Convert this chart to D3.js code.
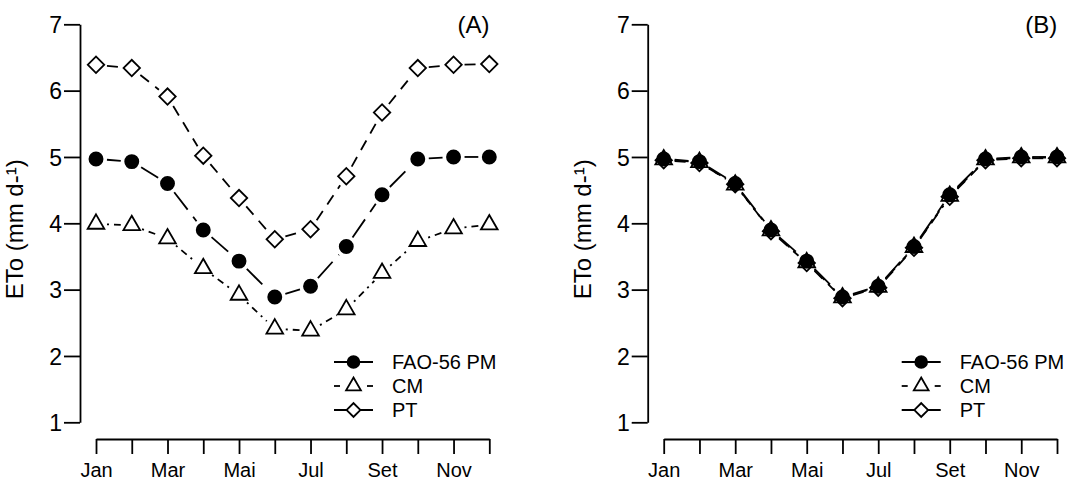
<!DOCTYPE html>
<html>
<head>
<meta charset="utf-8">
<script src="https://cdn.jsdelivr.net/npm/d3@7"></script>
<style>
  body { margin: 0; background: #fff; }
  text { font-family: "Liberation Sans", Arial, sans-serif; fill: #000; }
</style>
</head>
<body>
<div id="chart"></div>
<script>
// Months (tick every month, label every other one)
var months = ["Jan", "Fev", "Mar", "Abr", "Mai", "Jun", "Jul", "Ago", "Set", "Out", "Nov", "Dez"];
var yTicks = [1, 2, 3, 4, 5, 6, 7];

// Panel A - original equations
var faoA = [4.97, 4.93, 4.60, 3.90, 3.43, 2.89, 3.05, 3.65, 4.43, 4.97, 5.00, 5.00];
var cmA  = [3.99, 3.97, 3.77, 3.32, 2.92, 2.41, 2.38, 2.70, 3.25, 3.73, 3.92, 3.98];
var ptA  = [6.39, 6.34, 5.91, 5.02, 4.38, 3.76, 3.91, 4.71, 5.67, 6.34, 6.39, 6.40];

// Panel B - calibrated equations
var faoB = [4.97, 4.93, 4.60, 3.90, 3.43, 2.89, 3.05, 3.65, 4.43, 4.97, 5.00, 5.00];
var cmB  = [4.96, 4.92, 4.58, 3.89, 3.41, 2.88, 3.04, 3.64, 4.41, 4.96, 4.99, 4.99];
var ptB  = [4.95, 4.91, 4.59, 3.88, 3.40, 2.87, 3.03, 3.63, 4.40, 4.95, 4.98, 4.98];

var seriesNames = ["FAO-56 PM", "CM", "PT"];

var width = 1070, height = 482;

var svg = d3.select("#chart").append("svg")
    .attr("width", width)
    .attr("height", height)
    .style("background", "#fff");

// marker shapes
var circle = d3.symbol().type(d3.symbolCircle).size(135);
var triangle = d3.symbol().type(d3.symbolTriangle).size(120);
var diamond = d3.symbol().type(d3.symbolSquare).size(135);

var styles = {
    "FAO-56 PM": { dash: "22,9", shape: circle, fill: "#000", rot: 0 },
    "CM": { dash: "2,5,7,5", shape: triangle, fill: "#fff", rot: 0 },
    "PT": { dash: "11,8", shape: diamond, fill: "#fff", rot: 45 }
};

function drawPanel(offsetX, label, data) {
    var g = svg.append("g");
    var axisX = 80 + offsetX;

    var x = d3.scalePoint()
        .domain(months)
        .range([96 + offsetX, 489.3 + offsetX]);

    var y = d3.scaleLinear()
        .domain([1, 7])
        .range([422.3, 24.3]);

    // y axis
    var yAxis = g.append("g")
        .attr("transform", `translate(${axisX},0)`)
        .call(d3.axisLeft(y).tickValues(yTicks).tickFormat(d3.format("d"))
            .tickSize(16).tickSizeOuter(0).tickPadding(2));
    yAxis.selectAll("text").style("font-size", "23px").attr("dy", "0.36em");

    // x axis
    var xAxis = g.append("g")
        .attr("transform", "translate(0,439)")
        .call(d3.axisBottom(x).tickSize(15).tickSizeOuter(0).tickPadding(9)
            .tickFormat((d, i) => i % 2 === 0 ? d : ""));
    xAxis.selectAll("text").style("font-size", "20px");

    g.selectAll(".domain, .tick line")
        .attr("stroke", "#000")
        .attr("stroke-width", 1.8);

    // y title
    g.append("text")
        .attr("transform", `translate(${axisX - 57},${(y(1) + y(7)) / 2 + 6}) rotate(-90)`)
        .attr("text-anchor", "middle")
        .style("font-size", "24px")
        .text("ETo (mm d-¹)");

    // panel label
    g.append("text")
        .attr("x", 489.5 + offsetX)
        .attr("y", 33)
        .attr("text-anchor", "end")
        .style("font-size", "24px")
        .text(label);

    // series: drawn in reverse so FAO sits on top
    var gap = 11;
    data.slice().reverse().forEach(function (s) {
        var st = styles[s.name];
        var pts = s.values.map((v, i) => [x(months[i]), y(v)]);
        var segs = [];
        for (var i = 0; i < pts.length - 1; i++) {
            var a = pts[i], b = pts[i + 1];
            var dx = b[0] - a[0], dy = b[1] - a[1];
            var len = Math.sqrt(dx * dx + dy * dy);
            if (len <= 2 * gap) continue;
            var ux = dx / len, uy = dy / len;
            segs.push([a[0] + ux * gap, a[1] + uy * gap, b[0] - ux * gap, b[1] - uy * gap]);
        }
        g.selectAll(null)
            .data(segs)
            .enter().append("line")
            .attr("x1", d => d[0]).attr("y1", d => d[1])
            .attr("x2", d => d[2]).attr("y2", d => d[3])
            .attr("stroke", "#000")
            .attr("stroke-width", 1.8)
            .attr("stroke-dasharray", st.dash);

        g.selectAll(null)
            .data(pts)
            .enter().append("path")
            .attr("d", st.shape())
            .attr("transform", d => `translate(${d[0]},${d[1]}) rotate(${st.rot})`)
            .attr("fill", st.fill)
            .attr("stroke", "#000")
            .attr("stroke-width", 1.8);
    });

    // legend
    var legY = [362, 386, 410];
    seriesNames.forEach(function (name, i) {
        var st = styles[name];
        var lx0 = 334 + offsetX, lx1 = 373 + offsetX, cx = 353.5 + offsetX;
        if (name === "CM") {
            g.append("line").attr("x1", lx0).attr("x2", lx0 + 6)
                .attr("y1", legY[i]).attr("y2", legY[i])
                .attr("stroke", "#000").attr("stroke-width", 1.8);
            g.append("line").attr("x1", lx1 - 6).attr("x2", lx1)
                .attr("y1", legY[i]).attr("y2", legY[i])
                .attr("stroke", "#000").attr("stroke-width", 1.8);
        } else {
            g.append("line").attr("x1", lx0).attr("x2", lx1)
                .attr("y1", legY[i]).attr("y2", legY[i])
                .attr("stroke", "#000").attr("stroke-width", 1.8);
        }
        var legShape = d3.symbol().type(name === "FAO-56 PM" ? d3.symbolCircle
            : name === "CM" ? d3.symbolTriangle : d3.symbolSquare).size(name === "FAO-56 PM" ? 110 : 95);
        g.append("path")
            .attr("d", legShape())
            .attr("transform", `translate(${cx},${legY[i]}) rotate(${st.rot})`)
            .attr("fill", st.fill)
            .attr("stroke", "#000")
            .attr("stroke-width", 1.8);
        g.append("text")
            .attr("x", 392 + offsetX)
            .attr("y", legY[i] + 7)
            .style("font-size", "20px")
            .text(name);
    });
}

drawPanel(0, "(A)", [
    { name: "FAO-56 PM", values: faoA },
    { name: "CM", values: cmA },
    { name: "PT", values: ptA }
]);

drawPanel(567.7, "(B)", [
    { name: "FAO-56 PM", values: faoB },
    { name: "CM", values: cmB },
    { name: "PT", values: ptB }
]);
</script>
</body>
</html>
